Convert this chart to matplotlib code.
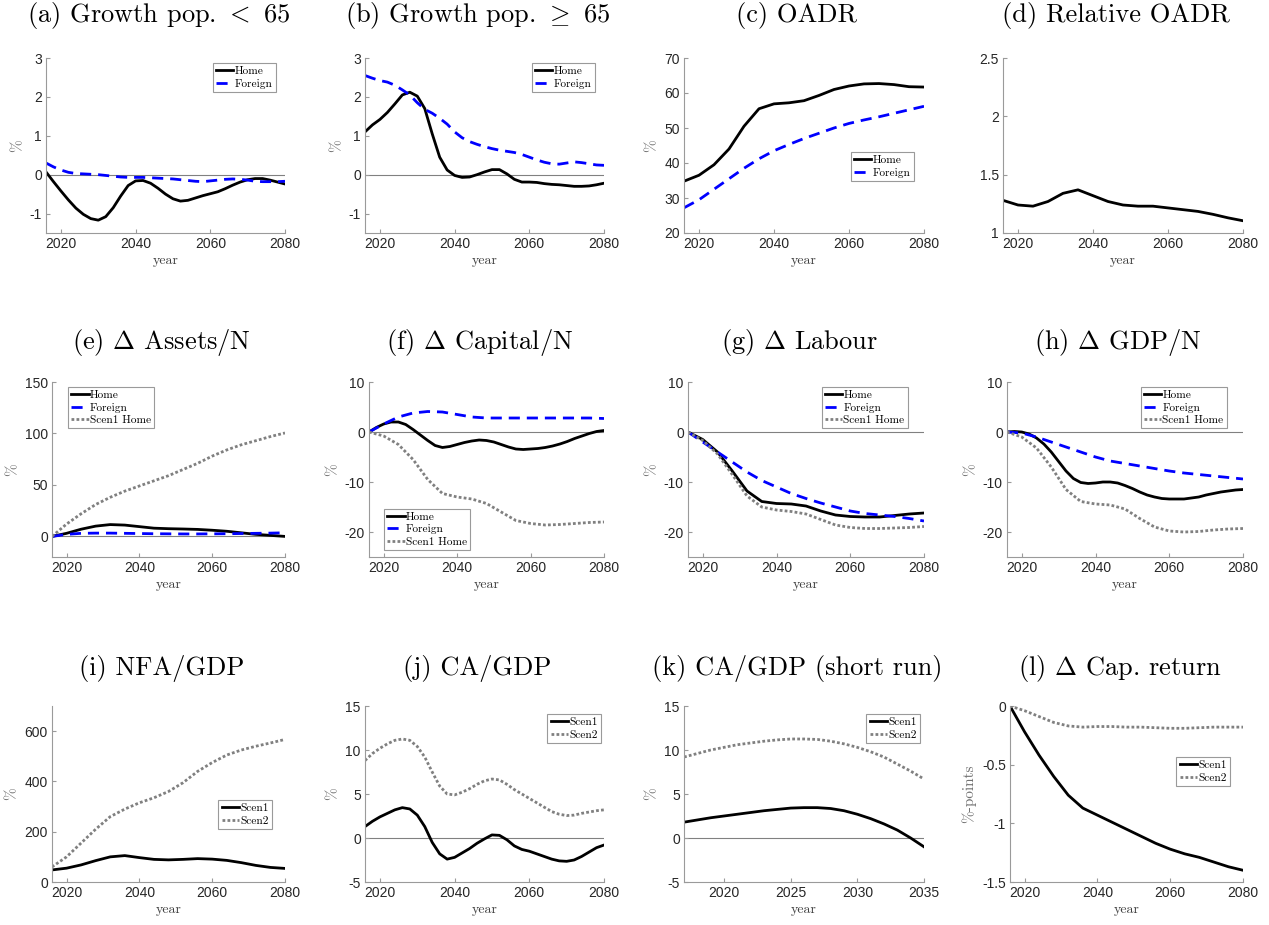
import matplotlib
matplotlib.use("Agg")
import matplotlib.pyplot as plt

plt.rcParams["mathtext.fontset"] = "cm"
plt.rcParams["axes.unicode_minus"] = False

# ---- data ----
years = [2016, 2020, 2024, 2028, 2032, 2036, 2040, 2044, 2048,
         2052, 2056, 2060, 2064, 2068, 2072, 2076, 2080]
years2 = list(range(2016, 2081, 2))
years_sr = list(range(2017, 2036))

pop_young_home = [0.07, -0.18, -0.42, -0.65, -0.86, -1.02, -1.13, -1.17, -1.08, -0.85,
                  -0.55, -0.28, -0.16, -0.15, -0.22, -0.35, -0.50, -0.62, -0.68, -0.66,
                  -0.60, -0.54, -0.49, -0.44, -0.36, -0.27, -0.19, -0.13, -0.10, -0.10,
                  -0.14, -0.19, -0.24]
pop_young_foreign = [0.30, 0.20, 0.12, 0.06, 0.03, 0.02, 0.01, 0.00, -0.02, -0.04,
                     -0.06, -0.07, -0.07, -0.07, -0.08, -0.09, -0.10, -0.11, -0.13, -0.15,
                     -0.17, -0.18, -0.16, -0.14, -0.12, -0.11, -0.12, -0.14, -0.17, -0.18,
                     -0.18, -0.18, -0.17]

pop_old_home = [1.10, 1.28, 1.42, 1.60, 1.82, 2.05, 2.12, 2.02, 1.70, 1.05,
                0.45, 0.12, -0.02, -0.07, -0.06, 0.00, 0.07, 0.13, 0.13, 0.02,
                -0.12, -0.19, -0.19, -0.20, -0.23, -0.25, -0.26, -0.28, -0.30, -0.30,
                -0.29, -0.26, -0.22]
pop_old_foreign = [2.55, 2.48, 2.42, 2.38, 2.30, 2.18, 2.05, 1.85, 1.68, 1.58,
                   1.45, 1.30, 1.10, 0.95, 0.85, 0.78, 0.72, 0.67, 0.63, 0.60,
                   0.57, 0.52, 0.45, 0.38, 0.32, 0.28, 0.27, 0.30, 0.33, 0.31,
                   0.28, 0.25, 0.24]

oadr_home = [34.8, 36.5, 39.5, 44.0, 50.5, 55.5, 56.9, 57.2, 57.8,
             59.3, 61.0, 62.0, 62.6, 62.7, 62.4, 61.8, 61.7]
oadr_foreign = [27.2, 29.5, 32.5, 35.5, 38.5, 41.2, 43.5, 45.3, 47.0,
                48.5, 50.0, 51.3, 52.3, 53.2, 54.2, 55.2, 56.2]

rel_oadr = [1.28, 1.24, 1.23, 1.27, 1.34, 1.37, 1.32, 1.27, 1.24,
            1.23, 1.23, 1.215, 1.20, 1.185, 1.16, 1.13, 1.105]

assets_home = [0, 3, 7, 10, 11.5, 11, 9.5, 8, 7.5, 7.2, 6.8, 6, 5, 3.5, 2, 1, 0]
assets_foreign = [0, 2, 3, 3.2, 3.2, 3, 2.8, 2.6, 2.5, 2.4, 2.4, 2.5, 2.6, 2.8, 3, 3.2, 3.5]
assets_scen1 = [0, 12, 22, 31, 38, 44, 49, 54, 59, 65, 71, 78, 84, 89, 93, 97, 100.5]

capital_home = [0, 0.9, 1.6, 2.0, 2.0, 1.5, 0.5, -0.6, -1.7, -2.7,
                -3.1, -2.9, -2.5, -2.1, -1.8, -1.6, -1.7, -2.0, -2.5, -3.0,
                -3.4, -3.5, -3.4, -3.3, -3.1, -2.8, -2.4, -1.9, -1.3, -0.8,
                -0.3, 0.1, 0.3]
capital_foreign = [0, 1.6, 3.0, 3.8, 4.1, 4.0, 3.5, 3.0, 2.8,
                   2.8, 2.8, 2.8, 2.8, 2.8, 2.8, 2.8, 2.7]
capital_scen1 = [0, -0.8, -2.5, -5.5, -9.5, -12.3, -13.0, -13.4, -14.3,
                 -16.0, -17.7, -18.3, -18.6, -18.5, -18.3, -18.1, -18.0]

labour_home = [0, -1.5, -4.0, -7.8, -11.8, -13.9, -14.3, -14.4, -14.8,
               -15.8, -16.6, -16.9, -17.0, -17.0, -16.7, -16.4, -16.2]
labour_foreign = [0, -2.0, -4.0, -6.0, -8.0, -9.7, -11.0, -12.3, -13.3,
                  -14.2, -15.0, -15.8, -16.3, -16.6, -16.9, -17.3, -17.8]
labour_scen1 = [0, -1.7, -4.4, -8.5, -12.8, -15.0, -15.6, -15.9, -16.4,
                -17.5, -18.6, -19.1, -19.3, -19.3, -19.2, -19.1, -18.9]

gdp_home = [0, 0.1, 0, -0.4, -1.2, -2.4, -4.0, -5.9, -7.8, -9.3,
            -10.1, -10.3, -10.2, -10.0, -10.0, -10.2, -10.7, -11.3, -12.0, -12.6,
            -13.0, -13.3, -13.4, -13.4, -13.4, -13.2, -13.0, -12.6, -12.3, -12.0,
            -11.8, -11.6, -11.5]
gdp_foreign = [0, -0.2, -1.0, -2.0, -3.0, -4.0, -5.0, -5.8, -6.3,
               -6.8, -7.3, -7.8, -8.2, -8.5, -8.8, -9.1, -9.4]
gdp_scen1 = [0, -1.0, -3.2, -7.0, -11.5, -13.9, -14.4, -14.6, -15.4,
             -17.3, -19.0, -19.8, -20.0, -19.9, -19.6, -19.4, -19.3]

nfa_scen1 = [48, 55, 68, 85, 100, 105, 97, 90, 88, 90, 93, 91, 86, 77, 66, 58, 54]
nfa_scen2 = [60, 100, 155, 210, 260, 290, 315, 335, 360, 395, 440, 475, 505, 525, 540, 553, 567]

ca_scen1 = [1.3, 1.9, 2.4, 2.8, 3.2, 3.45, 3.3, 2.6, 1.3, -0.5,
            -1.8, -2.4, -2.2, -1.7, -1.2, -0.6, -0.1, 0.35, 0.3, -0.2,
            -0.9, -1.3, -1.5, -1.8, -2.1, -2.4, -2.6, -2.65, -2.5, -2.1,
            -1.6, -1.1, -0.8]
ca_scen2 = [8.8, 9.6, 10.2, 10.7, 11.1, 11.25, 11.1, 10.4, 9.2, 7.5,
            5.9, 5.0, 4.9, 5.2, 5.6, 6.1, 6.5, 6.7, 6.6, 6.1,
            5.5, 5.0, 4.5, 4.0, 3.5, 3.0, 2.7, 2.55, 2.6, 2.8,
            2.95, 3.1, 3.2]

ca_sr_scen1 = [1.8, 2.05, 2.3, 2.5, 2.7, 2.9, 3.1, 3.25, 3.4, 3.45,
               3.45, 3.35, 3.1, 2.7, 2.2, 1.6, 0.9, 0.0, -1.0]
ca_sr_scen2 = [9.2, 9.6, 10.0, 10.3, 10.6, 10.8, 11.0, 11.15, 11.25, 11.25,
               11.2, 11.0, 10.7, 10.3, 9.8, 9.2, 8.4, 7.6, 6.7]

caprt_scen1 = [0, -0.22, -0.42, -0.60, -0.76, -0.87, -0.93, -0.99, -1.05,
               -1.11, -1.17, -1.22, -1.26, -1.29, -1.33, -1.37, -1.40]
caprt_scen2 = [0, -0.04, -0.09, -0.14, -0.17, -0.18, -0.175, -0.175, -0.18,
               -0.18, -0.185, -0.19, -0.19, -0.185, -0.18, -0.18, -0.18]

# ---- styles ----
W, H = 1269, 925
SERIF = "cmr10"
SANS = "Liberation Sans"
HOME = dict(color="black", lw=2.0, ls="-")
FOREIGN = dict(color="#0000ff", lw=2.0, ls=(0, (4, 2.5)))
SCEN1H = dict(color="#808080", lw=2.0, ls=(0, (1, 0.8)))

fig = plt.figure(figsize=(W / 100, H / 100), dpi=100)


def make_ax(left, top, right, bottom):
    ax = fig.add_axes([left / W, 1 - bottom / H, (right - left) / W, (bottom - top) / H])
    ax.width_px = right - left
    for s in ["top", "right"]:
        ax.spines[s].set_visible(False)
    for s in ["left", "bottom"]:
        ax.spines[s].set_color("#9a9a9a")
        ax.spines[s].set_linewidth(0.8)
    ax.tick_params(direction="in", length=3, color="#9a9a9a", labelsize=10,
                   labelcolor="#262626", pad=3)
    return ax


def finish(ax, title, pad, xlim, xticks, ylim, yticks, ylabel="%", zero=True):
    ax.set_xlim(*xlim)
    ax.set_xticks(xticks)
    ax.set_ylim(*ylim)
    ax.set_yticks(yticks)
    ax.set_yticklabels([f"{t:g}" for t in yticks], family=SANS)
    ax.set_xticklabels([str(t) for t in xticks], family=SANS)
    if zero:
        ax.axhline(0, color="#808080", lw=0.8, zorder=0)
    # titles sit a few pixels left of the axes centre in the original
    ax.set_title(title, family=SERIF, fontsize=19, pad=pad, x=0.5 - 7 / ax.width_px)
    ax.set_xlabel("year", family=SERIF, fontsize=10, color="#404040", labelpad=3)
    if ylabel:
        ax.set_ylabel(ylabel, family=SERIF, fontsize=11, color="#707070", labelpad=4)


def legend(ax, loc, anchor):
    leg = ax.legend(loc=loc, bbox_to_anchor=anchor, prop=dict(family=SERIF, size=8.2),
                    frameon=True, fancybox=False, framealpha=1, edgecolor="#9a9a9a",
                    handlelength=1.5, handletextpad=0.1, borderpad=0.3,
                    labelspacing=0.2, borderaxespad=0)
    leg.get_frame().set_linewidth(0.8)


X_LONG = (2016, 2080)
XT_LONG = [2020, 2040, 2060, 2080]
tops = [58, 382, 706]
bots = [233, 557, 882]
rights = [285, 604, 924, 1243]

# (a)
ax = make_ax(46, tops[0], rights[0], bots[0])
ax.plot(years2, pop_young_home, label="Home", **HOME)
ax.plot(years2, pop_young_foreign, label="Foreign", **FOREIGN)
finish(ax, r"(a) Growth pop. $<$ 65", 26, X_LONG, XT_LONG, (-1.5, 3), [-1, 0, 1, 2, 3])
legend(ax, "upper right", (0.962, 0.971))

# (b)
ax = make_ax(365, tops[0], rights[1], bots[0])
ax.plot(years2, pop_old_home, label="Home", **HOME)
ax.plot(years2, pop_old_foreign, label="Foreign", **FOREIGN)
finish(ax, r"(b) Growth pop. $\geq$ 65", 26, X_LONG, XT_LONG, (-1.5, 3), [-1, 0, 1, 2, 3])
legend(ax, "upper right", (0.962, 0.971))

# (c)
ax = make_ax(684, tops[0], rights[2], bots[0])
ax.plot(years, oadr_home, label="Home", **HOME)
ax.plot(years, oadr_foreign, label="Foreign", **FOREIGN)
finish(ax, "(c) OADR", 26, X_LONG, XT_LONG, (20, 70), [20, 30, 40, 50, 60, 70], zero=False)
legend(ax, "upper right", (0.958, 0.463))

# (d)
ax = make_ax(1003, tops[0], rights[3], bots[0])
ax.plot(years, rel_oadr, **HOME)
finish(ax, "(d) Relative OADR", 26, X_LONG, XT_LONG, (1, 2.5), [1, 1.5, 2, 2.5],
       ylabel=None, zero=False)

# (e)
ax = make_ax(52, tops[1], rights[0], bots[1])
ax.plot(years, assets_home, label="Home", **HOME)
ax.plot(years, assets_foreign, label="Foreign", **FOREIGN)
ax.plot(years, assets_scen1, label="Scen1 Home", **SCEN1H)
finish(ax, r"(e) $\Delta$ Assets/N", 24, X_LONG, XT_LONG, (-20, 150), [0, 50, 100, 150])
legend(ax, "upper left", (0.069, 0.971))

# (f)
ax = make_ax(369, tops[1], rights[1], bots[1])
ax.plot(years2, capital_home, label="Home", **HOME)
ax.plot(years, capital_foreign, label="Foreign", **FOREIGN)
ax.plot(years, capital_scen1, label="Scen1 Home", **SCEN1H)
finish(ax, r"(f) $\Delta$ Capital/N", 24, X_LONG, XT_LONG, (-25, 10), [-20, -10, 0, 10])
legend(ax, "lower left", (0.064, 0.04))

# (g)
ax = make_ax(688, tops[1], rights[2], bots[1])
ax.plot(years, labour_home, label="Home", **HOME)
ax.plot(years, labour_foreign, label="Foreign", **FOREIGN)
ax.plot(years, labour_scen1, label="Scen1 Home", **SCEN1H)
finish(ax, r"(g) $\Delta$ Labour", 24, X_LONG, XT_LONG, (-25, 10), [-20, -10, 0, 10])
legend(ax, "upper right", (0.932, 0.971))

# (h)
ax = make_ax(1007, tops[1], rights[3], bots[1])
ax.plot(years2, gdp_home, label="Home", **HOME)
ax.plot(years, gdp_foreign, label="Foreign", **FOREIGN)
ax.plot(years, gdp_scen1, label="Scen1 Home", **SCEN1H)
finish(ax, r"(h) $\Delta$ GDP/N", 24, X_LONG, XT_LONG, (-25, 10), [-20, -10, 0, 10])
legend(ax, "upper right", (0.932, 0.971))

# (i)
ax = make_ax(52, tops[2], rights[0], bots[2])
ax.plot(years, nfa_scen1, label="Scen1", **HOME)
ax.plot(years, nfa_scen2, label="Scen2", **SCEN1H)
finish(ax, "(i) NFA/GDP", 22, X_LONG, XT_LONG, (0, 700), [0, 200, 400, 600], zero=False)
legend(ax, "upper right", (0.944, 0.466))

# (j)
ax = make_ax(365, tops[2], rights[1], bots[2])
ax.plot(years2, ca_scen1, label="Scen1", **HOME)
ax.plot(years2, ca_scen2, label="Scen2", **SCEN1H)
finish(ax, "(j) CA/GDP", 22, X_LONG, XT_LONG, (-5, 15), [-5, 0, 5, 10, 15])
legend(ax, "upper right", (0.987, 0.955))

# (k)
ax = make_ax(684, tops[2], rights[2], bots[2])
ax.plot(years_sr, ca_sr_scen1, label="Scen1", **HOME)
ax.plot(years_sr, ca_sr_scen2, label="Scen2", **SCEN1H)
finish(ax, "(k) CA/GDP (short run)", 22, (2017, 2035), [2020, 2025, 2030, 2035],
       (-5, 15), [-5, 0, 5, 10, 15])
legend(ax, "upper right", (0.983, 0.955))

# (l)
ax = make_ax(1010, tops[2], rights[3], bots[2])
ax.plot(years, caprt_scen1, label="Scen1", **HOME)
ax.plot(years, caprt_scen2, label="Scen2", **SCEN1H)
finish(ax, r"(l) $\Delta$ Cap. return", 22, X_LONG, XT_LONG, (-1.5, 0),
       [-1.5, -1, -0.5, 0], ylabel="%-points", zero=False)
legend(ax, "upper right", (0.944, 0.71))

fig.savefig("out.png", dpi=100, facecolor="white")
